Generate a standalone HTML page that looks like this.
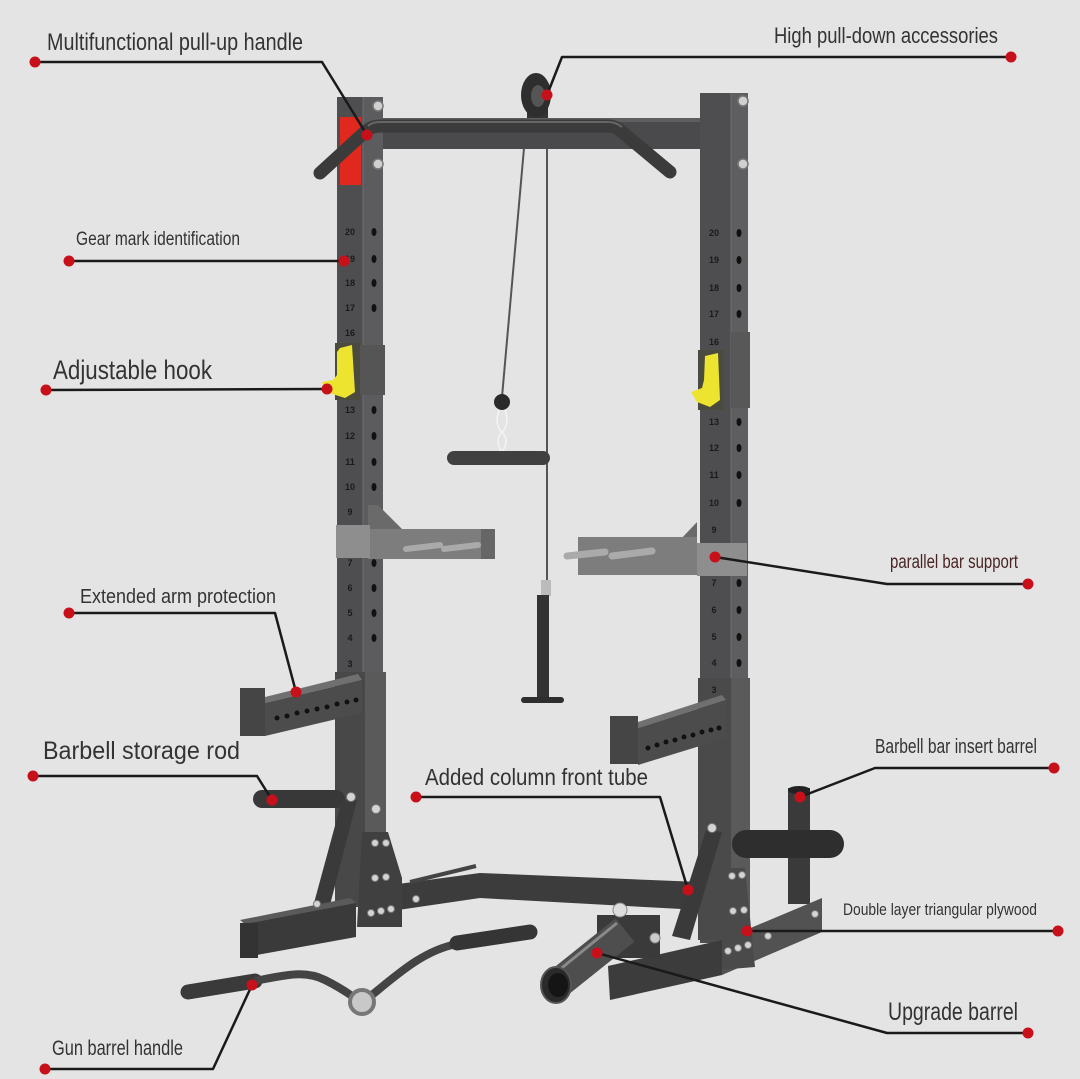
<!DOCTYPE html>
<html><head><meta charset="utf-8"><style>html,body{margin:0;padding:0;background:#e4e4e4}svg{display:block}</style></head>
<body>
<svg width="1080" height="1079" viewBox="0 0 1080 1079" xmlns="http://www.w3.org/2000/svg" font-family="'Liberation Sans', Arial, sans-serif">
<rect width="1080" height="1079" fill="#e4e4e4"/>

<!-- base beam behind -->
<polygon points="398,884 480,873 700,882 700,910 480,898 398,910" fill="#3c3c3c"/>
<line x1="410" y1="882" x2="476" y2="866" stroke="#444" stroke-width="4"/>

<!-- cables -->
<line x1="524" y1="148" x2="502" y2="397" stroke="#555" stroke-width="2"/>
<line x1="547" y1="148" x2="547" y2="590" stroke="#555" stroke-width="2"/>
<circle cx="502" cy="402" r="8" fill="#2a2a2a"/>
<path d="M499,410 Q494,425 502,432 Q510,440 502,452 M505,410 Q510,425 502,432 Q494,440 502,452" stroke="#f4f4f4" stroke-width="1.5" fill="none"/>
<rect x="447" y="451" width="103" height="14" rx="7" fill="#404040"/>
<rect x="541" y="580" width="10" height="16" fill="#bbb"/>
<rect x="537" y="595" width="12" height="102" fill="#333"/>
<rect x="521" y="697" width="43" height="6" rx="3" fill="#2e2e2e"/>

<!-- pulley -->
<rect x="527" y="100" width="21" height="22" fill="#333"/>
<ellipse cx="536" cy="95" rx="15" ry="22" fill="#2e2e2e"/>
<ellipse cx="538" cy="96" rx="7" ry="11" fill="#555"/>

<!-- top crossbar -->
<rect x="383" y="118" width="317" height="31" fill="#4a4a4c"/>
<rect x="383" y="118" width="317" height="4" fill="#5e5e5e"/>

<!-- left column -->
<rect x="337" y="97" width="26" height="810" fill="#4e4e50"/>
<rect x="363" y="97" width="20" height="810" fill="#5c5c5e"/>
<line x1="363" y1="97" x2="363" y2="907" stroke="#6e6e6e" stroke-width="1"/>
<rect x="340" y="117" width="21" height="68" fill="#e0281e"/>
<rect x="358" y="345" width="27" height="50" fill="#555"/>
<rect x="335" y="672" width="30" height="235" fill="#484848"/>
<rect x="365" y="672" width="21" height="235" fill="#5a5a5a"/>

<!-- right column -->
<rect x="700" y="93" width="31" height="850" fill="#4e4e50"/>
<rect x="731" y="93" width="17" height="850" fill="#5e5e60"/>
<line x1="731" y1="93" x2="731" y2="943" stroke="#6e6e6e" stroke-width="1"/>
<rect x="731" y="332" width="19" height="76" fill="#585858"/>
<rect x="698" y="678" width="33" height="262" fill="#4a4a4a"/>
<rect x="731" y="678" width="19" height="262" fill="#5a5a5a"/>

<!-- bolts top -->
<g fill="#d0d0d0" stroke="#777" stroke-width="1.5">
<circle cx="378" cy="106" r="5"/><circle cx="378" cy="164" r="5"/>
<circle cx="743" cy="101" r="5"/><circle cx="743" cy="164" r="5"/>
</g>

<!-- pull-up handle -->
<path d="M320,173 L366,131 Q372,126 380,126 L608,126 Q616,126 622,132 L670,172" stroke="#3b3b3b" stroke-width="13" stroke-linecap="round" fill="none"/>
<path d="M368,126 Q372,122 380,122 L608,122 Q616,122 622,127" stroke="#666" stroke-width="2" fill="none"/>

<!-- column numbers + holes left -->
<g font-size="9" font-weight="bold" fill="#1a1a1a" text-anchor="middle">
<text x="350" y="235">20</text><text x="350" y="262">19</text><text x="350" y="286">18</text><text x="350" y="311">17</text><text x="350" y="336">16</text>
<text x="350" y="413">13</text><text x="350" y="439">12</text><text x="350" y="465">11</text><text x="350" y="490">10</text><text x="350" y="515">9</text>
<text x="350" y="566">7</text><text x="350" y="591">6</text><text x="350" y="616">5</text><text x="350" y="641">4</text><text x="350" y="667">3</text>
<text x="714" y="236">20</text><text x="714" y="263">19</text><text x="714" y="291">18</text><text x="714" y="317">17</text><text x="714" y="345">16</text>
<text x="714" y="425">13</text><text x="714" y="451">12</text><text x="714" y="478">11</text><text x="714" y="506">10</text><text x="714" y="533">9</text>
<text x="714" y="586">7</text><text x="714" y="613">6</text><text x="714" y="640">5</text><text x="714" y="666">4</text><text x="714" y="693">3</text>
</g>
<g fill="#111">
<ellipse cx="374" cy="232" rx="2.5" ry="4"/><ellipse cx="374" cy="259" rx="2.5" ry="4"/><ellipse cx="374" cy="283" rx="2.5" ry="4"/><ellipse cx="374" cy="308" rx="2.5" ry="4"/>
<ellipse cx="374" cy="410" rx="2.5" ry="4"/><ellipse cx="374" cy="436" rx="2.5" ry="4"/><ellipse cx="374" cy="462" rx="2.5" ry="4"/><ellipse cx="374" cy="487" rx="2.5" ry="4"/>
<ellipse cx="374" cy="563" rx="2.5" ry="4"/><ellipse cx="374" cy="588" rx="2.5" ry="4"/><ellipse cx="374" cy="613" rx="2.5" ry="4"/><ellipse cx="374" cy="638" rx="2.5" ry="4"/>
<ellipse cx="739" cy="233" rx="2.5" ry="4"/><ellipse cx="739" cy="260" rx="2.5" ry="4"/><ellipse cx="739" cy="288" rx="2.5" ry="4"/><ellipse cx="739" cy="314" rx="2.5" ry="4"/>
<ellipse cx="739" cy="422" rx="2.5" ry="4"/><ellipse cx="739" cy="448" rx="2.5" ry="4"/><ellipse cx="739" cy="475" rx="2.5" ry="4"/><ellipse cx="739" cy="503" rx="2.5" ry="4"/>
<ellipse cx="739" cy="583" rx="2.5" ry="4"/><ellipse cx="739" cy="610" rx="2.5" ry="4"/><ellipse cx="739" cy="637" rx="2.5" ry="4"/><ellipse cx="739" cy="663" rx="2.5" ry="4"/>
</g>

<!-- hooks -->
<rect x="335" y="343" width="25" height="57" fill="#4a4a3e"/>
<polygon points="340,348 352,345 355,392 345,398 326,392 322,382 333,380 337,375 337,352" fill="#ece42e"/>
<rect x="698" y="350" width="25" height="60" fill="#4a4a3e"/>
<polygon points="705,356 718,353 720,400 710,407 697,402 691,392 702,388 704,380" fill="#ece42e"/>

<!-- parallel bar supports -->
<polygon points="368,505 378,505 402,529 368,529" fill="#6a6a6a"/>
<rect x="368" y="529" width="127" height="30" fill="#7d7d7d"/>
<rect x="481" y="529" width="14" height="30" fill="#666"/>
<rect x="336" y="525" width="34" height="33" fill="#8e8e8e"/>
<line x1="406" y1="549" x2="440" y2="545" stroke="#aaa" stroke-width="6" stroke-linecap="round"/>
<line x1="444" y1="549" x2="478" y2="545" stroke="#aaa" stroke-width="6" stroke-linecap="round"/>

<polygon points="680,540 697,522 697,540" fill="#6a6a6a"/>
<rect x="578" y="537" width="119" height="38" fill="#7d7d7d"/>
<rect x="697" y="543" width="50" height="33" fill="#8e8e8e"/>
<line x1="567" y1="556" x2="605" y2="552" stroke="#aaa" stroke-width="7" stroke-linecap="round"/>
<line x1="612" y1="556" x2="652" y2="551" stroke="#aaa" stroke-width="7" stroke-linecap="round"/>

<!-- lower arms -->
<polygon points="265,697 358,674 362,680 265,703" fill="#707070"/>
<polygon points="265,703 362,680 362,713 265,736" fill="#4c4c4c"/>
<rect x="240" y="688" width="25" height="48" fill="#454545"/>
<g fill="#111">
<circle cx="277" cy="718" r="2.5"/><circle cx="287" cy="716" r="2.5"/><circle cx="297" cy="713" r="2.5"/><circle cx="307" cy="711" r="2.5"/><circle cx="317" cy="709" r="2.5"/><circle cx="327" cy="707" r="2.5"/><circle cx="337" cy="704" r="2.5"/><circle cx="347" cy="702" r="2.5"/><circle cx="356" cy="700" r="2.5"/>
</g>
<polygon points="638,722 722,695 726,700 638,728" fill="#707070"/>
<polygon points="638,728 726,700 726,738 638,765" fill="#4c4c4c"/>
<rect x="610" y="716" width="28" height="48" fill="#454545"/>
<g fill="#111">
<circle cx="648" cy="748" r="2.5"/><circle cx="657" cy="745" r="2.5"/><circle cx="666" cy="742" r="2.5"/><circle cx="675" cy="740" r="2.5"/><circle cx="684" cy="737" r="2.5"/><circle cx="693" cy="735" r="2.5"/><circle cx="702" cy="732" r="2.5"/><circle cx="711" cy="730" r="2.5"/><circle cx="719" cy="728" r="2.5"/>
</g>

<!-- left base -->
<rect x="253" y="790" width="92" height="18" rx="9" fill="#383838"/>
<polygon points="342,800 357,800 330,905 314,903" fill="#3a3a3a"/>
<polygon points="362,832 388,832 402,878 402,927 357,927" fill="#404040"/>
<polygon points="240,920 350,898 356,903 246,925" fill="#5a5a5a"/>
<polygon points="240,925 356,903 356,937 240,958" fill="#3a3a3a"/>
<rect x="240" y="923" width="18" height="35" fill="#333"/>
<g fill="#d4d4d4" stroke="#777" stroke-width="1">
<circle cx="351" cy="797" r="4.5"/><circle cx="376" cy="809" r="4.5"/>
<circle cx="375" cy="843" r="3.5"/><circle cx="386" cy="843" r="3.5"/>
<circle cx="375" cy="878" r="3.5"/><circle cx="386" cy="877" r="3.5"/>
<circle cx="371" cy="913" r="3.5"/><circle cx="381" cy="911" r="3.5"/><circle cx="391" cy="909" r="3.5"/>
<circle cx="317" cy="904" r="3.5"/><circle cx="416" cy="899" r="3.5"/>
</g>

<!-- right base -->
<polygon points="706,830 722,832 690,940 672,936" fill="#3a3a3a"/>
<rect x="788" y="788" width="22" height="116" fill="#3a3a3a"/>
<ellipse cx="799" cy="790" rx="11" ry="4" fill="#222"/>
<polygon points="722,940 822,898 822,932 722,975" fill="#525252"/>
<polygon points="718,868 745,868 755,967 718,970" fill="#4a4a4a"/>
<polygon points="608,966 722,940 722,975 610,1000" fill="#3c3c3c"/>
<rect x="732" y="830" width="112" height="28" rx="14" fill="#2e2e2e"/>
<g fill="#d4d4d4" stroke="#777" stroke-width="1">
<circle cx="712" cy="828" r="4.5"/>
<circle cx="732" cy="876" r="3.5"/><circle cx="742" cy="875" r="3.5"/>
<circle cx="733" cy="911" r="3.5"/><circle cx="744" cy="910" r="3.5"/>
<circle cx="728" cy="951" r="3.5"/><circle cx="738" cy="948" r="3.5"/><circle cx="748" cy="945" r="3.5"/>
<circle cx="768" cy="936" r="3.5"/><circle cx="815" cy="914" r="3.5"/>
</g>

<!-- landmine -->
<rect x="597" y="915" width="63" height="43" fill="#3a3a3a"/>
<line x1="560" y1="982" x2="625" y2="930" stroke="#4e4e4e" stroke-width="30"/>
<line x1="553" y1="975" x2="617" y2="923" stroke="#8a8a8a" stroke-width="3"/>
<ellipse cx="556" cy="985" rx="15" ry="18" fill="#2a2a2a" stroke="#555" stroke-width="2"/>
<ellipse cx="558" cy="985" rx="10" ry="12" fill="#151515"/>
<circle cx="620" cy="910" r="7" fill="#ddd" stroke="#888"/>
<circle cx="655" cy="938" r="5" fill="#ccc" stroke="#888"/>

<!-- gun barrel handle -->
<line x1="188" y1="992" x2="255" y2="981" stroke="#3a3a3a" stroke-width="15" stroke-linecap="round"/>
<path d="M255,981 C285,975 305,970 325,980 S350,995 358,1000" stroke="#444" stroke-width="8" fill="none"/>
<path d="M372,995 C400,972 425,950 457,944" stroke="#444" stroke-width="8" fill="none"/>
<circle cx="362" cy="1002" r="12" fill="#c8c8c8" stroke="#777" stroke-width="4"/>
<line x1="457" y1="943" x2="530" y2="932" stroke="#353535" stroke-width="15" stroke-linecap="round"/>

<!-- leader lines -->
<g stroke="#1a1a1a" stroke-width="2.5" fill="none" stroke-linejoin="round">
<polyline points="35,62 322,62 367,135"/>
<polyline points="1011,57 562,57 547,95"/>
<polyline points="69,261 344,261"/>
<polyline points="46,390 327,389"/>
<polyline points="69,613 275,613 296,692"/>
<polyline points="33,776 257,776 272,800"/>
<polyline points="45,1069 213,1069 252,985"/>
<polyline points="416,797 660,797 688,890"/>
<polyline points="1054,768 875,768 800,797"/>
<polyline points="1058,931 747,931"/>
<polyline points="1028,1033 887,1033 597,953"/>
<polyline points="715,557 887,584 1028,584"/>
</g>

<!-- dots -->
<g fill="#c8101a">
<circle cx="35" cy="62" r="5.5"/><circle cx="367" cy="135" r="5.5"/>
<circle cx="1011" cy="57" r="5.5"/><circle cx="547" cy="95" r="5.5"/>
<circle cx="69" cy="261" r="5.5"/><circle cx="344" cy="261" r="5.5"/>
<circle cx="46" cy="390" r="5.5"/><circle cx="327" cy="389" r="5.5"/>
<circle cx="69" cy="613" r="5.5"/><circle cx="296" cy="692" r="5.5"/>
<circle cx="33" cy="776" r="5.5"/><circle cx="272" cy="800" r="5.5"/>
<circle cx="45" cy="1069" r="5.5"/><circle cx="252" cy="985" r="5.5"/>
<circle cx="416" cy="797" r="5.5"/><circle cx="688" cy="890" r="5.5"/>
<circle cx="1054" cy="768" r="5.5"/><circle cx="800" cy="797" r="5.5"/>
<circle cx="1058" cy="931" r="5.5"/><circle cx="747" cy="931" r="5.5"/>
<circle cx="1028" cy="1033" r="5.5"/><circle cx="597" cy="953" r="5.5"/>
<circle cx="715" cy="557" r="5.5"/><circle cx="1028" cy="584" r="5.5"/>
</g>

<!-- labels -->
<g fill="#333">
<text x="47" y="50" font-size="24" textLength="256" lengthAdjust="spacingAndGlyphs">Multifunctional pull-up handle</text>
<text x="774" y="43" font-size="22" textLength="224" lengthAdjust="spacingAndGlyphs">High pull-down accessories</text>
<text x="76" y="245" font-size="19" textLength="164" lengthAdjust="spacingAndGlyphs">Gear mark identification</text>
<text x="53" y="379" font-size="27" textLength="159" lengthAdjust="spacingAndGlyphs">Adjustable hook</text>
<text x="80" y="603" font-size="20" textLength="196" lengthAdjust="spacingAndGlyphs">Extended arm protection</text>
<text x="43" y="759" font-size="25" textLength="197" lengthAdjust="spacingAndGlyphs">Barbell storage rod</text>
<text x="52" y="1055" font-size="21" textLength="131" lengthAdjust="spacingAndGlyphs">Gun barrel handle</text>
<text x="425" y="785" font-size="23" textLength="223" lengthAdjust="spacingAndGlyphs">Added column front tube</text>
<text x="875" y="753" font-size="20" textLength="162" lengthAdjust="spacingAndGlyphs">Barbell bar insert barrel</text>
<text x="843" y="915" font-size="17" textLength="194" lengthAdjust="spacingAndGlyphs">Double layer triangular plywood</text>
<text x="888" y="1020" font-size="25" textLength="130" lengthAdjust="spacingAndGlyphs">Upgrade barrel</text>
<text x="890" y="568" font-size="19" fill="#4a2424" textLength="128" lengthAdjust="spacingAndGlyphs">parallel bar support</text>
</g>
</svg>
</body></html>
